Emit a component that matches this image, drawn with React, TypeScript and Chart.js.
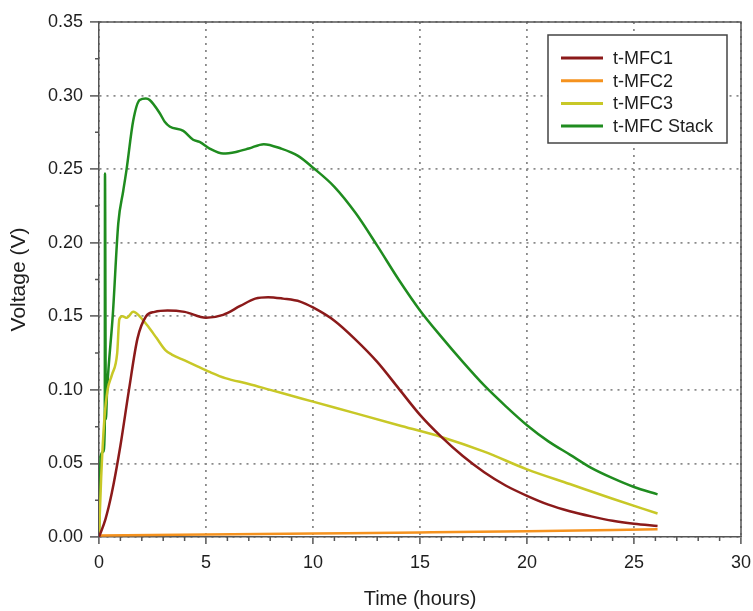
import React, { useEffect, useRef } from "react";
import { Chart, registerables } from "chart.js";

Chart.register(...registerables);

// ---- data ----
const seriesNames = ["t-MFC1", "t-MFC2", "t-MFC3", "t-MFC Stack"];
const seriesColors = ["#8b1a1a", "#f5921e", "#c8c827", "#1f8c1f"];

const time1 = [0, 0.3, 0.6, 1.0, 1.4, 1.8, 2.2, 2.6, 3.2, 4.0, 5.0, 5.8, 6.6, 7.3, 7.9, 8.6, 9.4, 10.0, 11.0, 12.0, 13.0, 14.0, 15.0, 16.0, 17.0, 18.0, 19.0, 20.0, 21.0, 22.0, 23.0, 24.0, 25.0, 26.1];
const volt1 = [0, 0.012, 0.03, 0.062, 0.1, 0.135, 0.15, 0.153, 0.154, 0.153, 0.149, 0.151, 0.157, 0.162, 0.163, 0.162, 0.16, 0.156, 0.147, 0.134, 0.119, 0.101, 0.083, 0.068, 0.055, 0.044, 0.035, 0.028, 0.022, 0.0175, 0.014, 0.011, 0.009, 0.0075];

const time2 = [0, 5, 10, 15, 20, 26.1];
const volt2 = [0.001, 0.0017, 0.0024, 0.0031, 0.0039, 0.0052];

const time3 = [0, 0.1, 0.25, 0.4, 0.6, 0.85, 0.95, 1.1, 1.3, 1.6, 1.9, 2.3, 2.7, 3.1, 3.4, 4.0, 4.6, 5.2, 5.9, 7.0, 8.0, 9.0, 10.0, 12.0, 14.0, 16.0, 18.0, 20.0, 22.0, 24.0, 26.1];
const volt3 = [0, 0.04, 0.08, 0.1, 0.11, 0.125, 0.148, 0.15, 0.149, 0.153, 0.15, 0.143, 0.135, 0.127, 0.124, 0.12, 0.116, 0.112, 0.108, 0.104, 0.1, 0.096, 0.092, 0.084, 0.076, 0.068, 0.058, 0.046, 0.036, 0.026, 0.016];

const time4 = [0, 0.08, 0.2, 0.27, 0.28, 0.32, 0.38, 0.65, 0.9, 1.13, 1.28, 1.6, 1.9, 2.19, 2.37, 2.84, 3.08, 3.3, 3.94, 4.4, 4.7, 5.17, 5.8, 6.4, 7.0, 7.7, 8.5, 9.3, 10.0, 11.0, 12.0, 13.0, 14.0, 15.0, 16.0, 17.0, 18.0, 19.0, 20.0, 21.0, 22.0, 23.0, 24.0, 25.0, 26.1];
const volt4 = [0, 0.055, 0.058, 0.075, 0.247, 0.08, 0.1, 0.152, 0.213, 0.235, 0.249, 0.283, 0.297, 0.298, 0.297, 0.288, 0.282, 0.279, 0.276, 0.27, 0.2685, 0.264, 0.2606, 0.2617, 0.264, 0.267, 0.264, 0.259, 0.251, 0.238, 0.22, 0.198, 0.175, 0.154, 0.136, 0.119, 0.103, 0.089, 0.076, 0.065, 0.056, 0.047, 0.04, 0.034, 0.029];

const seriesTimes = [time1, time2, time3, time4];
const seriesVolts = [volt1, volt2, volt3, volt4];

const xMin = 0, xMax = 30, xStep = 5, xMinorStep = 1;
const yMin = 0, yMax = 0.35, yStep = 0.05, yMinorStep = 0.025;
const xTitle = "Time (hours)";
const yTitle = "Voltage (V)";

const FONT = "'Liberation Sans', Arial, sans-serif";
const AXIS_COLOR = "#555555";
const TEXT_COLOR = "#1e1e1e";

const framePlugin = {
  id: "frameAndMinor",
  afterDraw(chart: any) {
    const { ctx, chartArea } = chart;
    const xs = chart.scales.x;
    const ys = chart.scales.y;
    ctx.save();
    ctx.strokeStyle = AXIS_COLOR;
    ctx.lineWidth = 1.5;
    // top & right frame
    ctx.beginPath();
    ctx.moveTo(chartArea.left, chartArea.top);
    ctx.lineTo(chartArea.right, chartArea.top);
    ctx.lineTo(chartArea.right, chartArea.bottom);
    ctx.stroke();
    // minor ticks
    ctx.beginPath();
    for (let v = xMin + xMinorStep; v < xMax; v += xMinorStep) {
      if (Math.abs(v / xStep - Math.round(v / xStep)) < 1e-6) continue;
      const px = xs.getPixelForValue(v);
      ctx.moveTo(px, chartArea.bottom);
      ctx.lineTo(px, chartArea.bottom + 4);
    }
    for (let v = yMin + yMinorStep; v < yMax - 1e-9; v += yMinorStep) {
      if (Math.abs(v / yStep - Math.round(v / yStep)) < 1e-6) continue;
      const py = ys.getPixelForValue(v);
      ctx.moveTo(chartArea.left, py);
      ctx.lineTo(chartArea.left - 4, py);
    }
    ctx.stroke();

    // legend
    const bx = 548, by = 35, bw = 179, bh = 108;
    ctx.fillStyle = "#ffffff";
    ctx.fillRect(bx, by, bw, bh);
    ctx.strokeStyle = "#444444";
    ctx.lineWidth = 1.5;
    ctx.strokeRect(bx, by, bw, bh);
    ctx.font = `18px ${FONT}`;
    ctx.textBaseline = "middle";
    ctx.textAlign = "left";
    chart.data.datasets.forEach((ds: any, i: number) => {
      const y = 58 + i * 22.7;
      ctx.strokeStyle = ds.borderColor;
      ctx.lineWidth = 3;
      ctx.beginPath();
      ctx.moveTo(561, y);
      ctx.lineTo(603, y);
      ctx.stroke();
      ctx.fillStyle = TEXT_COLOR;
      ctx.fillText(ds.label, 613, y + 1);
    });
    ctx.restore();
  },
};

export default function App() {
  const ref = useRef<HTMLCanvasElement | null>(null);

  useEffect(() => {
    if (!ref.current) return;
    const datasets = seriesNames.map((name, i) => ({
      label: name,
      data: seriesTimes[i].map((t, j) => ({ x: t, y: seriesVolts[i][j] })),
      borderColor: seriesColors[i],
      backgroundColor: seriesColors[i],
      borderWidth: 2.5,
      pointRadius: 0,
      cubicInterpolationMode: "monotone" as const,
      fill: false,
    }));

    const chart = new Chart(ref.current, {
      type: "line",
      data: { datasets },
      plugins: [framePlugin],
      options: {
        responsive: false,
        animation: false,
        layout: { padding: { top: 22, right: 12, left: 0, bottom: 0 } },
        plugins: {
          legend: { display: false },
          tooltip: { enabled: false },
        },
        scales: {
          x: {
            type: "linear",
            min: xMin,
            max: xMax,
            ticks: {
              stepSize: xStep,
              color: TEXT_COLOR,
              font: { size: 18, family: FONT },
              padding: 8,
              maxRotation: 0,
            },
            grid: {
              color: "#8a8a8a",
              lineWidth: 1.8,
              tickColor: AXIS_COLOR,
              tickLength: 7,
              tickWidth: 1.5,
            },
            border: { display: true, color: AXIS_COLOR, width: 1.5, dash: [2, 5] },
            title: {
              display: true,
              text: xTitle,
              color: TEXT_COLOR,
              font: { size: 20, family: FONT },
              padding: { bottom: 0, top: 0 },
            },
            afterFit: (s: any) => {
              s.height = 74;
              s.paddingLeft = 0;
              s.paddingRight = 0;
            },
          },
          y: {
            type: "linear",
            min: yMin,
            max: yMax,
            ticks: {
              stepSize: yStep,
              color: TEXT_COLOR,
              font: { size: 18, family: FONT },
              padding: 7,
              callback: (v: any) => Number(v).toFixed(2),
            },
            grid: {
              color: "#8a8a8a",
              lineWidth: 1.8,
              tickColor: AXIS_COLOR,
              tickLength: 9,
              tickWidth: 1.5,
            },
            border: { display: true, color: AXIS_COLOR, width: 1.5, dash: [2, 5] },
            title: {
              display: true,
              text: yTitle,
              color: TEXT_COLOR,
              font: { size: 21, family: FONT },
              padding: { top: 7, bottom: 0 },
            },
            afterFit: (s: any) => {
              s.width = 99;
              s.paddingTop = 0;
              s.paddingBottom = 0;
            },
          },
        },
      },
    });
    return () => chart.destroy();
  }, []);

  return (
    <div style={{ position: "absolute", left: 0, top: 0, width: 753, height: 611, background: "#fff" }}>
      <canvas ref={ref} width={753} height={611} style={{ display: "block", width: 753, height: 611 }} />
    </div>
  );
}
